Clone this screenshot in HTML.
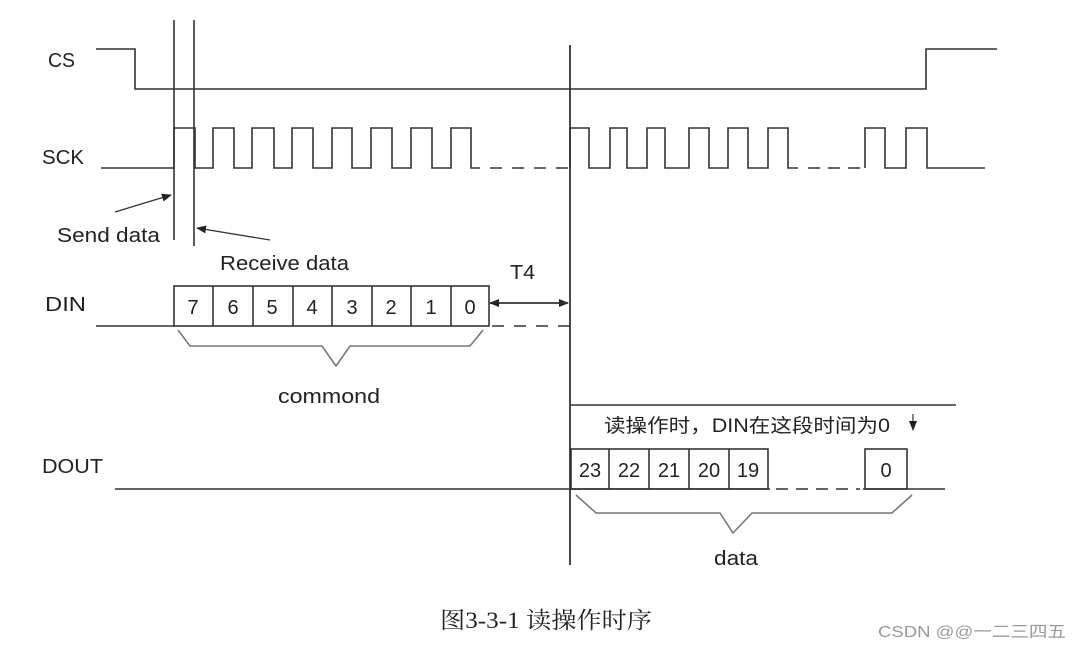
<!DOCTYPE html>
<html><head><meta charset="utf-8"><style>
html,body{margin:0;padding:0;background:#fff;}
svg{display:block;}
text{font-family:"Liberation Sans","Noto Sans CJK SC",sans-serif;fill:#222;}
</style></head><body>
<svg width="1082" height="649" viewBox="0 0 1082 649" xmlns="http://www.w3.org/2000/svg">
<defs>
<marker id="ah" markerWidth="10" markerHeight="8" refX="9" refY="4" orient="auto" markerUnits="userSpaceOnUse">
<path d="M0,0 L10,4 L0,8 z" fill="#222"/></marker>
</defs>
<g stroke="#333" stroke-width="1.6" fill="none">
<polyline points="96,49 135,49 135,89 926,89 926,49 997,49"/>
<line x1="174" y1="20" x2="174" y2="240"/>
<line x1="194" y1="20" x2="194" y2="246"/>
<line x1="570" y1="45" x2="570" y2="565" stroke-width="1.8"/>
<polyline points="101,168 174,168 174,128 195,128 195,168 213,168 213,128 234,128 234,168 252,168 252,128 274,128 274,168 292,168 292,128 313,128 313,168 332,168 332,128 352,128 352,168 371,168 371,128 392,128 392,168 411,168 411,128 432,128 432,168 451,168 451,128 471,128 471,168 480,168"/>
<line x1="490" y1="168" x2="570" y2="168" stroke-dasharray="12,10"/>
<polyline points="570,168 570,128 589,128 589,168 610,168 610,128 627,128 627,168 647,168 647,128 665,128 665,168 689,168 689,128 709,128 709,168 728,168 728,128 748,128 748,168 768,168 768,128 788,128 788,168 798,168"/>
<line x1="808" y1="168" x2="860" y2="168" stroke-dasharray="12,8"/>
<polyline points="865,168 865,128 885,128 885,168 906,168 906,128 927,128 927,168 985,168"/>
<line x1="96" y1="326" x2="174" y2="326"/>
<rect x="174" y="286" width="315" height="40"/>
<line x1="213" y1="286" x2="213" y2="326"/><line x1="253" y1="286" x2="253" y2="326"/>
<line x1="293" y1="286" x2="293" y2="326"/><line x1="332" y1="286" x2="332" y2="326"/>
<line x1="372" y1="286" x2="372" y2="326"/><line x1="411" y1="286" x2="411" y2="326"/>
<line x1="451" y1="286" x2="451" y2="326"/>
<line x1="492" y1="326" x2="570" y2="326" stroke-dasharray="12,10"/>
<polyline points="178,330 190,346 322,346 336,366 350,346 470,346 483,330" stroke="#777"/>
<line x1="490" y1="303" x2="568" y2="303" marker-end="url(#ah)" stroke-width="1.4"/>
<line x1="568" y1="303" x2="490" y2="303" marker-end="url(#ah)" stroke-width="1.4"/>
<line x1="115" y1="212" x2="171" y2="195" marker-end="url(#ah)" stroke-width="1.3"/>
<line x1="270" y1="240" x2="197" y2="228" marker-end="url(#ah)" stroke-width="1.3"/>
<line x1="570" y1="405" x2="956" y2="405"/>
<line x1="115" y1="489" x2="945" y2="489"/>
<rect x="571" y="449" width="197" height="40"/>
<line x1="609" y1="449" x2="609" y2="489"/><line x1="649" y1="449" x2="649" y2="489"/>
<line x1="689" y1="449" x2="689" y2="489"/><line x1="729" y1="449" x2="729" y2="489"/>
<rect x="865" y="449" width="42" height="40"/>
<line x1="770" y1="489" x2="863" y2="489" stroke="#fff" stroke-width="3"/>
<line x1="776" y1="489" x2="860" y2="489" stroke-dasharray="12,8"/>
<polyline points="576,495 596,513 720,513 733,533 752,513 892,513 912,495" stroke="#777"/>
<line x1="913" y1="414" x2="913" y2="430" marker-end="url(#ah)" stroke-width="1.2"/>
</g>
<g font-size="20" lengthAdjust="spacingAndGlyphs">
<text x="48" y="67" textLength="27" lengthAdjust="spacingAndGlyphs">CS</text>
<text x="42" y="164" textLength="42" lengthAdjust="spacingAndGlyphs">SCK</text>
<text x="45" y="311" textLength="41" lengthAdjust="spacingAndGlyphs">DIN</text>
<text x="42" y="473" textLength="61" lengthAdjust="spacingAndGlyphs">DOUT</text>
<text x="57" y="242" textLength="103" lengthAdjust="spacingAndGlyphs">Send data</text>
<text x="220" y="270" textLength="129" lengthAdjust="spacingAndGlyphs">Receive data</text>
<text x="510" y="279" textLength="25" lengthAdjust="spacingAndGlyphs">T4</text>
<text x="278" y="403" textLength="102" lengthAdjust="spacingAndGlyphs">commond</text>
<text x="714" y="565" textLength="44" lengthAdjust="spacingAndGlyphs">data</text>
</g>
<g font-size="20" text-anchor="middle">
<text x="193" y="314">7</text><text x="233" y="314">6</text><text x="272" y="314">5</text>
<text x="312" y="314">4</text><text x="352" y="314">3</text><text x="391" y="314">2</text>
<text x="431" y="314">1</text><text x="470" y="314">0</text>
<text x="590" y="477">23</text><text x="629" y="477">22</text><text x="669" y="477">21</text>
<text x="709" y="477">20</text><text x="748" y="477">19</text><text x="886" y="477">0</text>
</g>
<text x="604" y="432" font-size="19" textLength="286" lengthAdjust="spacingAndGlyphs">读操作时，DIN在这段时间为0</text>
<text x="440" y="628" font-size="23" textLength="212" lengthAdjust="spacingAndGlyphs" style="font-family:'Liberation Serif','Noto Serif CJK SC',serif">图3-3-1  读操作时序</text>
<text x="878" y="637" font-size="16" textLength="188" lengthAdjust="spacingAndGlyphs" style="fill:#999">CSDN @@一二三四五</text>
</svg>
</body></html>
